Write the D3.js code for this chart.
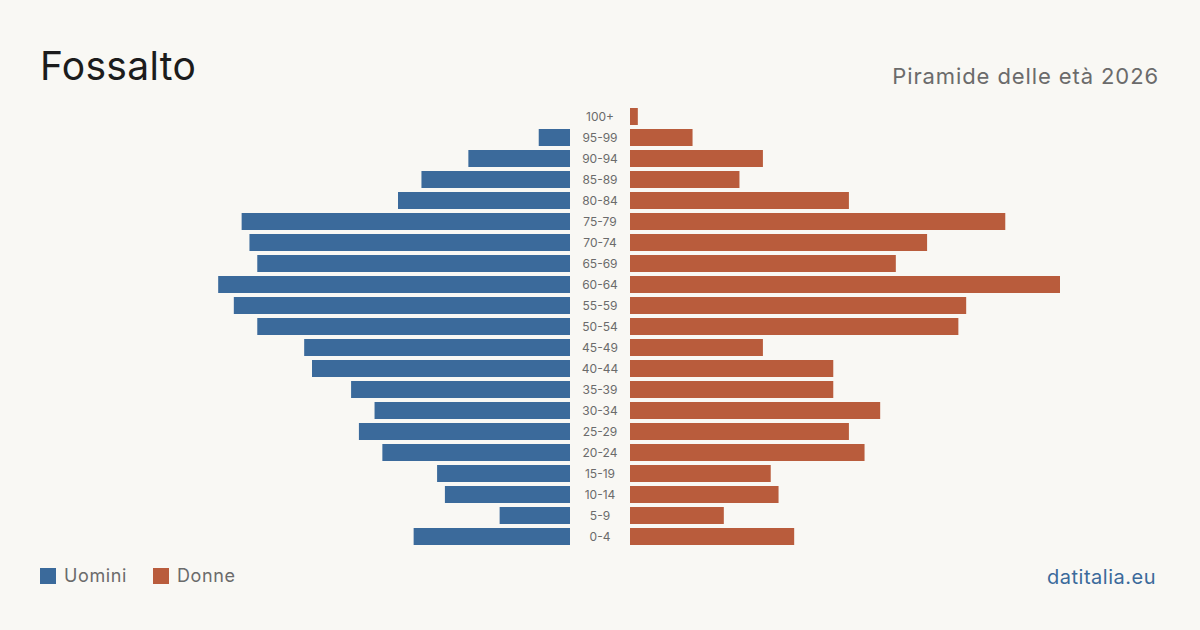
<!DOCTYPE html>
<html>
<head>
<meta charset="utf-8">
<script src="https://cdn.jsdelivr.net/npm/d3@7"></script>
<style>
  body { margin: 0; background: #f9f8f4; }
  svg { display: block; font-family: Inter, "Noto Sans", sans-serif; }
</style>
</head>
<body>
<svg width="1200" height="630"></svg>
<script>
const ageGroups = ["100+", "95-99", "90-94", "85-89", "80-84", "75-79", "70-74", "65-69", "60-64", "55-59",
  "50-54", "45-49", "40-44", "35-39", "30-34", "25-29", "20-24", "15-19", "10-14", "5-9", "0-4"];
const men =   [0, 4, 13, 19, 22, 42, 41, 40, 45, 43, 40, 34, 33, 28, 25, 27, 24, 17, 16, 9, 20];
const women = [1, 8, 17, 14, 28, 48, 38, 34, 55, 43, 42, 17, 26, 26, 32, 28, 30, 18, 19, 12, 21];

const svg = d3.select("svg");
const width = 1200, height = 630;
const centerLeft = 570, centerRight = 630, halfWidth = 430;
const topY = 106, rowStep = 21;

svg.append("rect").attr("width", width).attr("height", height).attr("fill", "#f9f8f4");

const maxVal = d3.max(men.concat(women));
const x = d3.scaleLinear().domain([0, maxVal]).range([0, halfWidth]);
const y = d3.scaleBand().domain(ageGroups)
  .range([topY, topY + rowStep * ageGroups.length])
  .paddingInner(4 / 21).paddingOuter(2 / 21);

// men, drawn leftwards
svg.append("g").selectAll("rect").data(ageGroups).join("rect")
  .attr("x", (d, i) => centerLeft - x(men[i]))
  .attr("y", d => y(d))
  .attr("width", (d, i) => x(men[i]))
  .attr("height", y.bandwidth())
  .attr("fill", "#3b6a9b");

// women, drawn rightwards
svg.append("g").selectAll("rect").data(ageGroups).join("rect")
  .attr("x", centerRight)
  .attr("y", d => y(d))
  .attr("width", (d, i) => x(women[i]))
  .attr("height", y.bandwidth())
  .attr("fill", "#b95c3c");

// age labels in the middle
svg.append("g").selectAll("text").data(ageGroups).join("text")
  .attr("x", (centerLeft + centerRight) / 2)
  .attr("y", d => y(d) + y.bandwidth() / 2)
  .attr("dy", "0.35em")
  .attr("text-anchor", "middle")
  .attr("font-size", 12)
  .attr("fill", "#6b6b6b")
  .text(d => d);

svg.append("text")
  .attr("x", 40).attr("y", 80)
  .attr("font-size", 39)
  .attr("letter-spacing", 0.3)
  .attr("fill", "#1c1c1c")
  .text("Fossalto");

svg.append("text")
  .attr("x", 1159).attr("y", 84)
  .attr("text-anchor", "end")
  .attr("font-size", 22)
  .attr("letter-spacing", 0.9)
  .attr("fill", "#6b6b6b")
  .text("Piramide delle età 2026");

// legend
const legend = [{ name: "Uomini", color: "#3b6a9b", x: 40 }, { name: "Donne", color: "#b95c3c", x: 153 }];
const lg = svg.append("g").selectAll("g").data(legend).join("g")
  .attr("transform", d => `translate(${d.x},568)`);
lg.append("rect").attr("width", 16).attr("height", 16).attr("fill", d => d.color);
lg.append("text")
  .attr("x", 24).attr("y", 8).attr("dy", "0.35em")
  .attr("font-size", 18)
  .attr("letter-spacing", 0.6)
  .attr("fill", "#6b6b6b")
  .text(d => d.name);

svg.append("text")
  .attr("x", 1156).attr("y", 584)
  .attr("text-anchor", "end")
  .attr("font-size", 20)
  .attr("letter-spacing", 0.5)
  .attr("fill", "#3b6a9b")
  .text("datitalia.eu");
</script>
</body>
</html>
